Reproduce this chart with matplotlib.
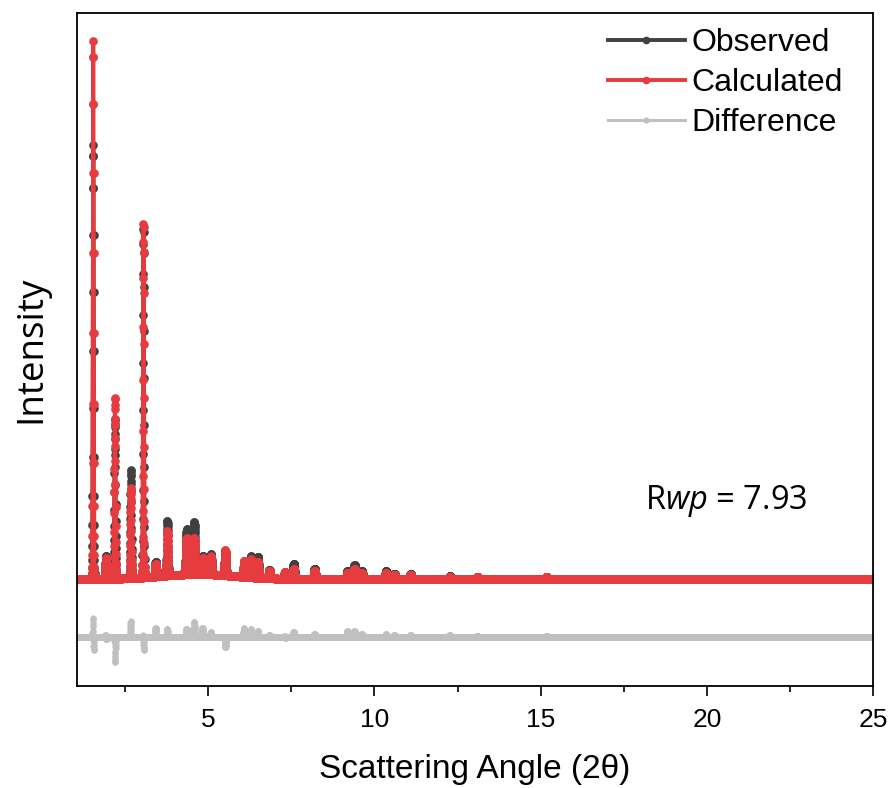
import numpy as np
import matplotlib
matplotlib.use('Agg')
import matplotlib.pyplot as plt
from matplotlib.lines import Line2D

plt.rcParams['font.family'] = ['Liberation Sans', 'DejaVu Sans']
plt.rcParams['mathtext.fontset'] = 'custom'
plt.rcParams['mathtext.rm'] = 'Open Sans'
plt.rcParams['mathtext.it'] = 'Open Sans:italic'

# peak list (2theta, heights above the baseline)
peak_pos  = [1.54, 1.92, 2.19, 2.67, 3.05, 3.42, 3.77, 4.35, 4.58, 4.83, 5.08, 5.51, 6.08, 6.29,
             6.49, 6.84, 7.31, 7.57, 8.20, 9.19, 9.40, 9.62, 10.35, 10.60, 11.09, 12.27, 13.10, 15.18]
obs_h     = [434, 23, 160, 108, 349, 15, 55, 45, 52, 18, 20, 24, 14, 21,
             21, 8, 7, 15, 10, 8, 14, 8, 8, 5, 5, 3, 2, 2]
calc_h    = [538, 21, 181, 90, 355, 13, 45, 36, 36, 16, 18, 25, 16, 18,
             16, 7, 7, 10, 8, 6, 10, 6, 6, 4, 4, 2, 2, 2]
peak_w    = [0.012, 0.015, 0.014, 0.014, 0.012, 0.018, 0.016, 0.022, 0.022, 0.02, 0.02, 0.02, 0.02, 0.02,
             0.02, 0.02, 0.02, 0.02, 0.02, 0.02, 0.02, 0.02, 0.02, 0.02, 0.02, 0.02, 0.02, 0.02]
diff_up   = [36, 5, 7, 18, 8, 9, 10, 10, 17, 9, 5, 0, 9, 8,
             6, 2, 2, 5, 3, 6, 6, 3, 3, 2, 2, 2, 1, 1]
diff_down = [31, 5, 30, 3, 18, 0, 2, 2, 2, 0, 0, 10, 0, 0,
             0, 0, 2, 0, 0, 0, 0, 0, 0, 0, 0, 0, 0, 0]

# amorphous hump under the pattern
hump_c, hump_w, hump_h = 4.7, 1.1, 5.0
base_level = -1.0
diff_offset = -59.0

tt = np.arange(1.0, 25.0, 0.003)
bg = base_level + hump_h*np.exp(-0.5*((tt-hump_c)/hump_w)**2)
obs = bg.copy()
calc = bg.copy()
diff = np.zeros_like(tt)
for p, ho, hc, w, du, dd in zip(peak_pos, obs_h, calc_h, peak_w, diff_up, diff_down):
    obs += ho*np.exp(-0.5*((tt-p)/(w*1.1))**2)
    calc += hc*np.exp(-0.5*((tt-p)/w)**2)
    diff += du*np.exp(-0.5*((tt-p+0.004)/(w*0.8))**2) - dd*np.exp(-0.5*((tt-p-0.004)/(w*0.8))**2)
diff += diff_offset

c_obs = '#404040'
c_calc = '#e63c3f'
c_diff = '#c0c0c0'

fig = plt.figure(figsize=(8.9, 7.88), dpi=100)
ax = fig.add_axes([0.0865, 0.1294, 0.8945, 0.8541])

ax.plot(tt, obs, color=c_obs, lw=2.8, marker='o', ms=6.2, mew=0)
ax.plot(tt, calc, color=c_calc, lw=2.8, marker='o', ms=6.2, mew=0)
ax.plot(tt, diff, color=c_diff, lw=2.2, marker='o', ms=4.5, mew=0)

ax.set_xlim(1.05, 25)
ax.set_ylim(-108, 565)
ax.set_yticks([])
ax.set_xticks([5, 10, 15, 20, 25])
ax.set_xticks([2.5, 7.5, 12.5, 17.5, 22.5], minor=True)
ax.tick_params(axis='x', which='major', direction='out', length=7, width=1.2, labelsize=19, pad=9)
ax.tick_params(axis='x', which='minor', direction='out', length=4, width=1.2)
for s in ax.spines.values():
    s.set_linewidth(1.3)

ax.set_xlabel('Scattering Angle (2θ)', fontsize=24, labelpad=16)
ax.set_ylabel('Intensity', fontsize=26.5, family='Open Sans', labelpad=20)

ax.text(0.714, 0.275, r'R$\mathit{wp}$ = 7.93', transform=ax.transAxes, fontsize=23.5,
        family='Open Sans', ha='left', va='center')

handles = [Line2D([], [], color=c_obs, lw=2.8, marker='o', ms=4.5),
           Line2D([], [], color=c_calc, lw=2.8, marker='o', ms=4.5),
           Line2D([], [], color=c_diff, lw=2.2, marker='o', ms=3.5)]
ax.legend(handles, ['Observed', 'Calculated', 'Difference'], loc='upper left',
          bbox_to_anchor=(0.667, 0.978), frameon=False, fontsize=23,
          handlelength=2.4, handletextpad=0.2, labelspacing=0.32, borderpad=0, borderaxespad=0)

fig.savefig('out.png', dpi=100)
